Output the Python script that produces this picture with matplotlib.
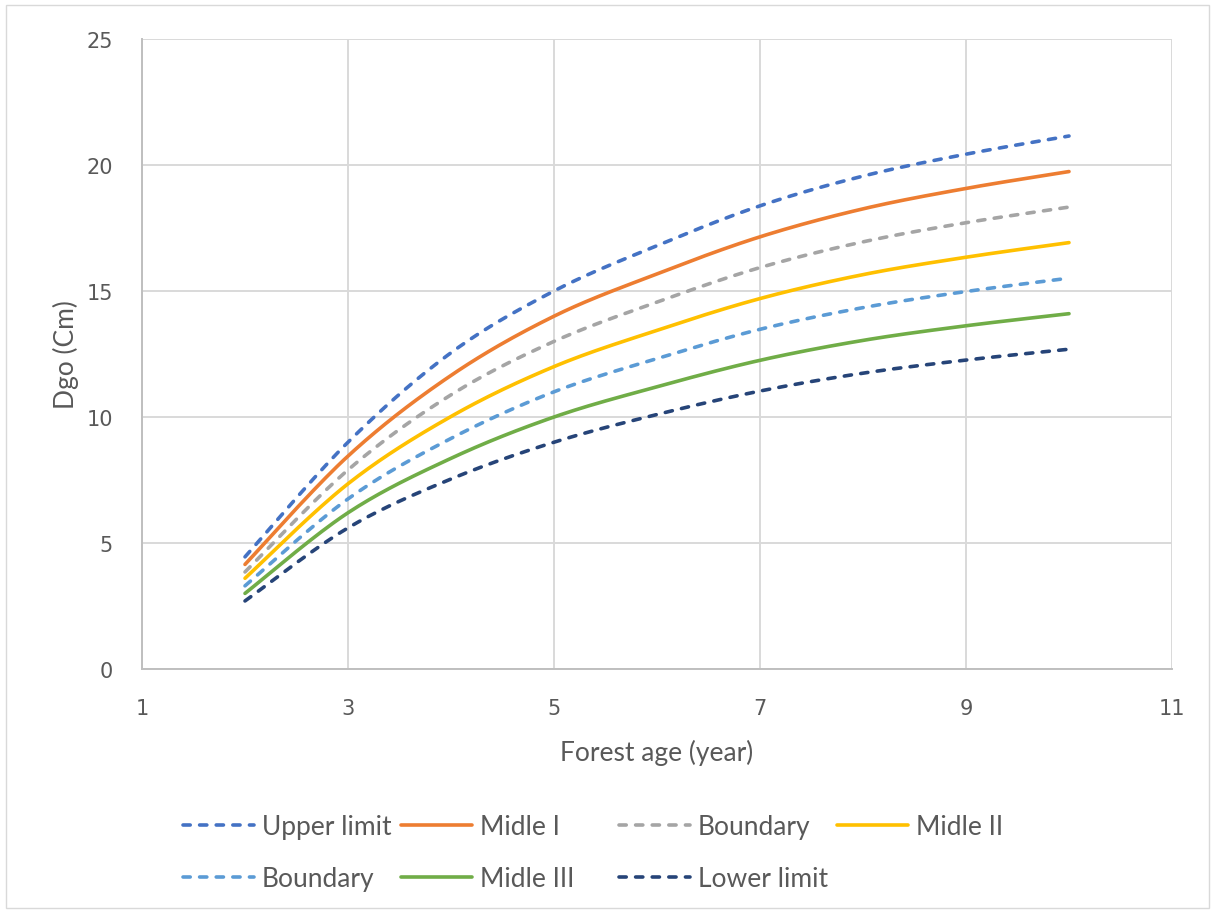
import numpy as np
import matplotlib
matplotlib.use("Agg")
import matplotlib.pyplot as plt
from matplotlib.patches import Rectangle

# ---- data ----
ages = [2, 3, 4, 5, 6, 7, 8, 9, 10]
upper_limit = [4.45, 9.00, 12.55, 15.0, 16.8, 18.38, 19.56, 20.43, 21.15]
midle_1     = [4.15, 8.45, 11.65, 14.0, 15.68, 17.15, 18.26, 19.07, 19.74]
boundary_1  = [3.85, 7.90, 10.88, 13.0, 14.56, 15.93, 16.95, 17.71, 18.33]
midle_2     = [3.60, 7.35, 10.02, 12.0, 13.44, 14.70, 15.65, 16.34, 16.92]
boundary_2  = [3.30, 6.75, 9.15, 11.0, 12.32, 13.48, 14.34, 14.98, 15.51]
midle_3     = [3.00, 6.20, 8.36, 10.0, 11.20, 12.25, 13.04, 13.62, 14.10]
lower_limit = [2.70, 5.60, 7.54, 9.0, 10.10, 11.03, 11.74, 12.26, 12.69]

series_names = ["Upper limit", "Midle I", "Boundary", "Midle II",
                "Boundary", "Midle III", "Lower limit"]
series_values = [upper_limit, midle_1, boundary_1, midle_2,
                 boundary_2, midle_3, lower_limit]
colors = ["#4472C4", "#ED7D31", "#A5A5A5", "#FFC000",
          "#5B9BD5", "#70AD47", "#264478"]
dashed = [True, False, True, False, True, False, True]

x_ticks = [1, 3, 5, 7, 9, 11]
y_ticks = [0, 5, 10, 15, 20, 25]


def smooth(x, y, n=30):
    """Bezier smoothing like a spreadsheet 'smoothed line' (Catmull-Rom)."""
    x = np.asarray(x, float)
    y = np.asarray(y, float)
    P = np.column_stack([x, y])
    m = len(P)
    out = []
    for i in range(m - 1):
        p0 = P[i - 1] if i > 0 else P[i]
        p1 = P[i]
        p2 = P[i + 1]
        p3 = P[i + 2] if i + 2 < m else P[i + 1]
        c1 = p1 + (p2 - p0) / 6.0
        c2 = p2 - (p3 - p1) / 6.0
        t = np.linspace(0, 1, n, endpoint=(i == m - 2))[:, None]
        seg = ((1 - t) ** 3) * p1 + 3 * ((1 - t) ** 2) * t * c1 + 3 * (1 - t) * t ** 2 * c2 + t ** 3 * p2
        out.append(seg)
    out = np.vstack(out)
    return out[:, 0], out[:, 1]


W, H = 1215, 912
fig = plt.figure(figsize=(W / 100, H / 100), dpi=100)
fig.patch.set_facecolor("white")

fig.patches.append(Rectangle((6 / W, 3 / H), (W - 12) / W, (H - 9) / H,
                             transform=fig.transFigure, fill=False,
                             edgecolor="#D9D9D9", linewidth=1.0))

ax = fig.add_axes([142 / W, (H - 670) / H, (1172 - 142) / W, (670 - 40) / H])

text_color = "#595959"
label_font = "Lato"
label_size = 19

handles = []
for name, vals, c, d in zip(series_names, series_values, colors, dashed):
    sx, sy = smooth(ages, vals)
    ln, = ax.plot(sx, sy, color=c, lw=2.6, solid_capstyle="round",
                  dash_capstyle="round", label=name, zorder=3)
    if d:
        ln.set_dashes((2.0, 2.6))
    handles.append(ln)

ax.set_xlim(1, 11)
ax.set_ylim(0, 25)
ax.set_xticks(x_ticks)
ax.set_yticks(y_ticks)
ax.grid(True, color="#D9D9D9", linewidth=1.4, zorder=0)
ax.set_axisbelow(True)
for s in ["top", "right"]:
    ax.spines[s].set_visible(False)
for s in ["left", "bottom"]:
    ax.spines[s].set_color("#BFBFBF")
    ax.spines[s].set_linewidth(1.4)
ax.tick_params(length=0, labelsize=15, labelcolor=text_color)
ax.tick_params(axis="y", pad=21)
ax.tick_params(axis="x", pad=21)

ax.set_xlabel("Forest age (year)", fontsize=label_size, color=text_color,
              family=label_font, labelpad=15)
ax.set_ylabel("Dgo (Cm)", fontsize=label_size, color=text_color,
              family=label_font, labelpad=5)

# legend: columns placed at equal spacing, as in the reference
col_x = [183, 401, 619, 837]
row_sets = [[0, 4], [1, 5], [2, 6], [3]]
for cx, idxs in zip(col_x, row_sets):
    hs = [handles[i] for i in idxs]
    fig.legend(hs, [series_names[i] for i in idxs],
               loc="upper left", bbox_to_anchor=(cx / W, 1 - 815 / H),
               frameon=False, ncol=1, handlelength=2.7, handletextpad=0.28,
               labelspacing=1.02, borderaxespad=0, borderpad=0,
               prop={"family": label_font, "size": label_size},
               labelcolor=text_color)

fig.savefig("out.png", dpi=100, facecolor="white")
